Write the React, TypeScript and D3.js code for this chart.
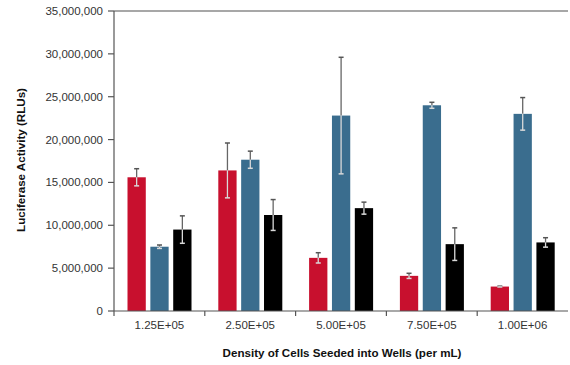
import * as d3 from "d3"

const categories = ["1.25E+05", "2.50E+05", "5.00E+05", "7.50E+05", "1.00E+06"]
const seriesNames = ["A", "B", "C"]
const seriesColors = ["#c8102e", "#3a6d8e", "#000000"]

// mean values (RLUs)
const redValues = [15600000, 16400000, 6200000, 4100000, 2850000]
const blueValues = [7500000, 17650000, 22800000, 24000000, 23000000]
const blackValues = [9500000, 11200000, 12000000, 7800000, 8000000]

// error (+/-)
const redErr = [1000000, 3200000, 600000, 300000, 50000]
const blueErr = [200000, 1000000, 6800000, 350000, 1900000]
const blackErr = [1600000, 1800000, 700000, 1900000, 550000]

const yTicks = [0, 5000000, 10000000, 15000000, 20000000, 25000000, 30000000, 35000000]

const W = 570
const H = 365
const left = 114
const right = 568
const top = 11
const bottom = 311

const App = () => {
  const values = [redValues, blueValues, blackValues]
  const errors = [redErr, blueErr, blackErr]

  const x = d3.scaleBand().domain(categories).range([left, right]).padding(0)
  const inner = d3
    .scaleBand()
    .domain(seriesNames)
    .range([13.5, 77.5])
    .paddingInner(0.2)
  const y = d3.scaleLinear().domain([0, 35000000]).range([bottom, top])
  const fmt = d3.format(",")

  const axisColor = "#555"
  const font = "Liberation Sans, Arial, sans-serif"

  return (
    <svg width={W} height={H} style={{ position: "absolute", left: 0, top: 0 }}>
      <rect width={W} height={H} fill="#fff" />

      {/* top border */}
      <line x1={left} x2={right} y1={top} y2={top} stroke="#8a8a8a" strokeWidth={1.6} />

      {/* bars */}
      {seriesNames.map((s, si) =>
        categories.map((c, ci) => {
          const v = values[si][ci]
          const e = errors[si][ci]
          const bx = (x(c) as number) + (inner(s) as number)
          const bw = inner.bandwidth()
          const cx = bx + bw / 2
          const yTop = y(v)
          const yHi = y(v + e)
          const yLo = y(v - e)
          return (
            <g key={s + c}>
              <rect x={bx} y={yTop} width={bw} height={bottom - yTop} fill={seriesColors[si]} />
              <line x1={cx} x2={cx} y1={yHi} y2={yTop} stroke="#666" strokeWidth={1.3} />
              <line x1={cx - 2.5} x2={cx + 2.5} y1={yHi} y2={yHi} stroke="#555" strokeWidth={1.5} />
              <line x1={cx} x2={cx} y1={yTop} y2={yLo} stroke="#d9d9d9" strokeWidth={1.3} />
              <line x1={cx - 2.5} x2={cx + 2.5} y1={yLo} y2={yLo} stroke="#d9d9d9" strokeWidth={1.5} />
            </g>
          )
        })
      )}

      {/* y axis */}
      <line x1={left} x2={left} y1={top} y2={bottom + 5} stroke={axisColor} strokeWidth={1.2} />
      {yTicks.map((t) => (
        <g key={t}>
          <line x1={left - 6} x2={left} y1={y(t)} y2={y(t)} stroke={axisColor} strokeWidth={1.2} />
          <text
            x={left - 11}
            y={y(t)}
            dy="0.35em"
            textAnchor="end"
            fontFamily={font}
            fontSize={11.5}
            fill="#333"
          >
            {fmt(t)}
          </text>
        </g>
      ))}

      {/* x axis */}
      <line x1={left} x2={right} y1={bottom} y2={bottom} stroke={axisColor} strokeWidth={1.2} />
      {categories.map((c, i) => (
        <g key={c}>
          {i > 0 && (
            <line
              x1={x(c) as number}
              x2={x(c) as number}
              y1={bottom}
              y2={bottom + 5}
              stroke={axisColor}
              strokeWidth={1.2}
            />
          )}
          <text
            x={(x(c) as number) + x.bandwidth() / 2}
            y={bottom + 18}
            textAnchor="middle"
            fontFamily={font}
            fontSize={11.5}
            fill="#333"
          >
            {c}
          </text>
        </g>
      ))}

      {/* axis titles */}
      <text
        transform={`translate(25,160) rotate(-90)`}
        textAnchor="middle"
        fontFamily={font}
        fontSize={11.6}
        fontWeight="bold"
        fill="#111"
      >
        Luciferase Activity (RLUs)
      </text>
      <text
        x={342}
        y={357}
        textAnchor="middle"
        fontFamily={font}
        fontSize={11.6}
        fontWeight="bold"
        fill="#111"
      >
        Density of Cells Seeded into Wells (per mL)
      </text>
    </svg>
  )
}

export default App
